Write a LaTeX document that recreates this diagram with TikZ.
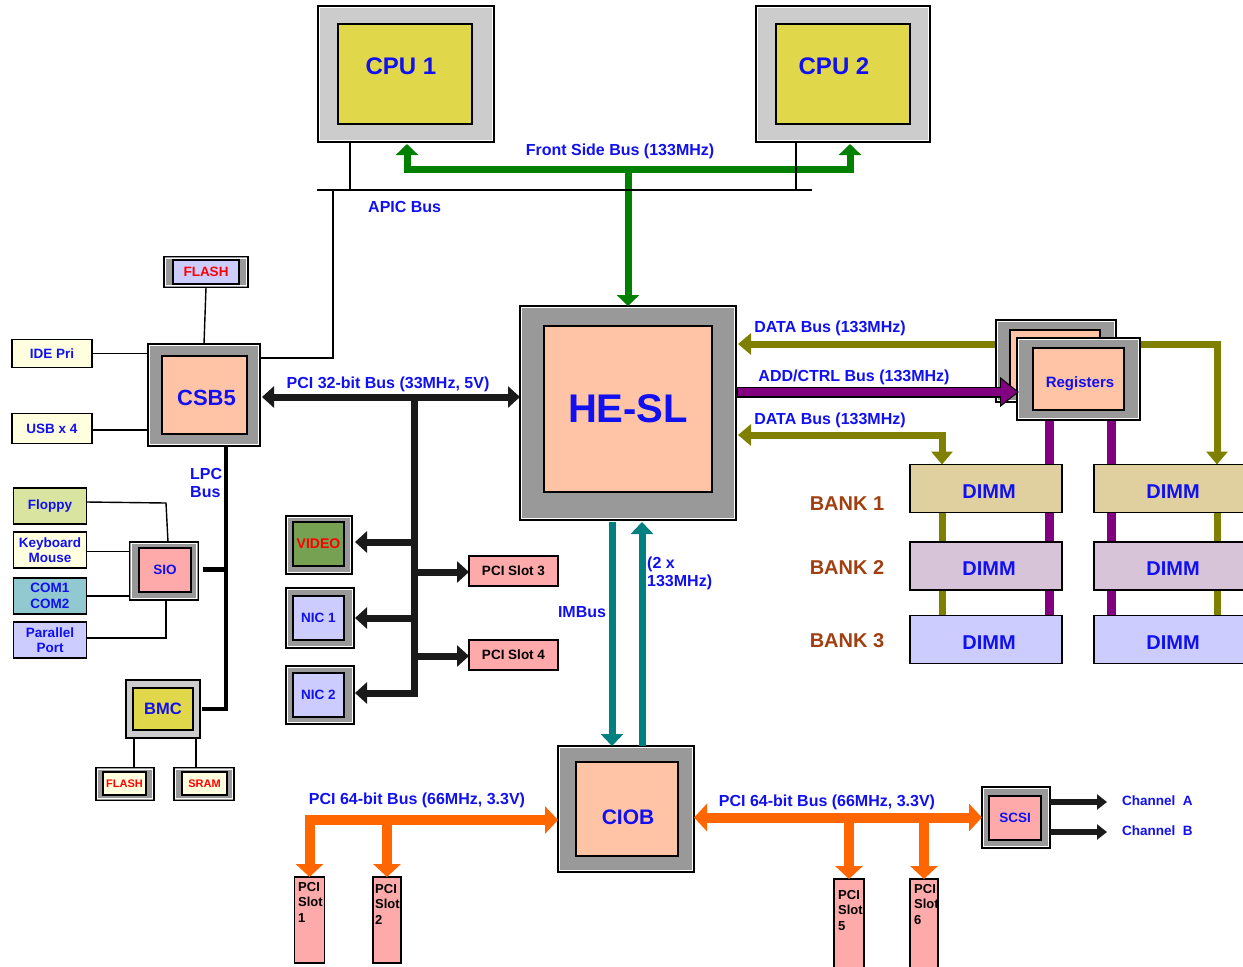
\documentclass[tikz,border=0pt]{standalone}
\usepackage{fontspec}
\setmainfont{Liberation Sans}
\usetikzlibrary{arrows.meta,calc}
\pgfdeclarelayer{bg}
\pgfsetlayers{bg,main}
\definecolor{tblue}{RGB}{16,16,240}
\definecolor{gry}{RGB}{153,153,153}
\definecolor{lgry}{RGB}{204,204,204}
\definecolor{peach}{RGB}{255,196,166}
\definecolor{cpuy}{RGB}{224,216,74}
\definecolor{lav}{RGB}{204,204,255}
\definecolor{lyel}{RGB}{255,255,224}
\definecolor{flop}{RGB}{216,228,160}
\definecolor{comc}{RGB}{146,200,208}
\definecolor{pinkc}{RGB}{255,170,170}
\definecolor{vidg}{RGB}{118,160,82}
\definecolor{bankA}{RGB}{224,208,160}
\definecolor{bankB}{RGB}{216,196,216}
\definecolor{bankt}{RGB}{160,64,16}
\definecolor{oliv}{RGB}{128,128,0}
\definecolor{purp}{RGB}{128,0,128}
\definecolor{tealc}{RGB}{0,128,128}
\definecolor{grn}{RGB}{0,128,0}
\definecolor{orng}{RGB}{255,102,0}
\definecolor{blk}{RGB}{26,26,26}
\newcommand{\fz}[2]{\fontsize{#1}{#2}\selectfont\bfseries}
\tikzset{
  Gt/.tip={Triangle[length=11pt,width=22pt]},
  Kt/.tip={Triangle[length=12pt,width=21pt]},
  Ot/.tip={Triangle[length=13pt,width=21pt]},
  Tt/.tip={Triangle[length=12pt,width=22pt]},
  Rt/.tip={Triangle[length=13pt,width=27pt]},
  Ct/.tip={Triangle[length=10pt,width=15pt]},
  bx/.style={draw=black, line width=1.5pt, inner sep=0pt, outer sep=0pt, align=center},
  og/.style={bx, fill=gry, path picture={\draw[white, line width=1pt]
      ([shift={(1.7pt,-1.7pt)}]path picture bounding box.north west) rectangle
      ([shift={(-1.7pt,1.7pt)}]path picture bounding box.south east);}},
  sz/.style 2 args={minimum width=#1pt, minimum height=#2pt},
  sm/.style={text=tblue, font=\fz{13.5}{15.5}},
  chip/.style={text=tblue, inner sep=0pt},
  lbl/.style={text=tblue, inner sep=0pt, font=\fz{16}{18}},
  slt/.style={text=black, inner sep=0pt, align=left, font=\fz{13}{15.5}},
  wire/.style={draw=black, line width=1.4pt},
  gb/.style={draw=grn, line width=7pt},
  kb/.style={draw=blk, line width=7pt},
  olb/.style={draw=oliv, line width=7pt},
  plb/.style={draw=purp, line width=9pt},
  tb/.style={draw=tealc, line width=7pt},
  ob/.style={draw=orng, line width=10pt},
  cb/.style={draw=blk, line width=6pt},
  lpcw/.style={draw=black, line width=4.5pt},
}
\begin{document}
\begin{tikzpicture}[x=1pt,y=-1pt,line join=miter]
\useasboundingbox (0,0) rectangle (1243,967);

% ---------------- CPUs
\node[og, fill=lgry, sz={176}{136}] (cpu1o) at (406,74) {};
\node[bx, fill=cpuy, sz={134}{100}] (cpu1) at (405,74) {};
\node[chip, font=\fz{24}{28}] (cpu1t) at (401,66) {CPU 1};
\node[og, fill=lgry, sz={174}{136}] (cpu2o) at (843,74) {};
\node[bx, fill=cpuy, sz={134}{100}] (cpu2) at (843,74) {};
\node[chip, font=\fz{24}{28}] (cpu2t) at (834,66) {CPU 2};

% ---------------- HE-SL
\node[og, sz={216}{214}] (heslo) at (628,413) {};
\node[bx, fill=peach, sz={168}{166}, text=tblue, font=\fz{40}{44}] (hesl) at (628,409) {HE-SL};

% ---------------- CSB5 group
\node[og, sz={112}{102}] (csbo) at (204,395) {};
\node[bx, fill=peach, sz={85}{78}] (csb) at (204.5,395) {};
\node[chip, font=\fz{22}{24}] (csbt) at (206.5,398) {CSB5};
\node[og, sz={84}{31}] (flo) at (206,272) {};
\node[bx, fill=lav, sz={66}{24}, text=red, font=\fz{13.5}{16}] (fl) at (206,272) {FLASH};
\node[bx, fill=lyel, sz={80}{28}, sm] (ide) at (52,353.5) {IDE Pri};
\node[bx, fill=lyel, sz={80}{30}, sm] (usb) at (52,428.5) {USB x 4};

% ---------------- SIO group
\node[og, sz={69}{58}] (sioo) at (164,571) {};
\node[bx, fill=pinkc, sz={52}{44}, sm] (sio) at (165,570) {SIO};
\node[bx, fill=flop, sz={73}{36}, sm] (flp) at (50,506) {Floppy};
\node[bx, fill=lyel, sz={73}{36}, sm] (kbd) at (50,550) {Keyboard\\Mouse};
\node[bx, fill=comc, sz={73}{36}, sm] (com) at (50,596) {COM1\\COM2};
\node[bx, fill=lav, sz={73}{36}, sm] (par) at (50,640) {Parallel\\Port};

% ---------------- BMC group
\node[bx, fill=lgry, sz={74}{58}] (bmco) at (163,709) {};
\node[bx, fill=cpuy, sz={60}{42}, text=tblue, font=\fz{16.5}{18}] (bmc) at (163,709) {BMC};
\node[og, sz={58}{33}] (fl2o) at (125,784) {};
\node[bx, fill=lyel, sz={43}{23}, text=red, font=\fz{11}{13}] (fl2) at (124.5,783.5) {FLASH};
\node[og, sz={60}{33}] (sramo) at (204,784) {};
\node[bx, fill=lyel, sz={45}{23}, text=red, font=\fz{11}{13}] (sram) at (204.5,783.5) {SRAM};

% ---------------- PCI devices
\node[og, sz={66}{58}] (vido) at (319,545) {};
\node[bx, fill=vidg, sz={51}{44}, text=red, font=\fz{14}{16}] (vid) at (318.5,544) {VIDEO};
\node[og, sz={68}{60}] (nic1o) at (320,618) {};
\node[bx, fill=lav, sz={51}{44}, sm] (nic1) at (318.5,618) {NIC 1};
\node[og, sz={68}{58}] (nic2o) at (320,695) {};
\node[bx, fill=lav, sz={51}{44}, sm] (nic2) at (318.5,695) {NIC 2};
\node[bx, fill=pinkc, sz={89}{30}, text=black, font=\fz{13.5}{16}] (sl3) at (513.5,571) {PCI Slot 3};
\node[bx, fill=pinkc, sz={89}{30}, text=black, font=\fz{13.5}{16}] (sl4) at (513.5,655) {PCI Slot 4};

% ---------------- Registers
\node[og, sz={120}{82}] (rgbo) at (1056,361) {};
\node[bx, fill=peach, sz={90}{62}] (rgb) at (1055,361) {};
\node[og, sz={123}{82}] (rgo) at (1078.5,379) {};
\node[bx, fill=peach, sz={91}{62}] (rg) at (1078.5,379) {};
\node[chip, font=\fz{15}{17}] (rgt) at (1080,384) {Registers};

% ---------------- DIMMs
\foreach \c/\x in {1/986,2/1170}{
  \foreach \r/\y/\col in {1/488.5/bankA,2/566/bankB,3/639.5/lav}{
    \node[bx, fill=\col, sz={152}{48}] (d\c\r) at (\x,\y) {};
    \node[chip, font=\fz{20}{22}] (t\c\r) at ([xshift=3pt,yshift=-3pt]d\c\r.center) {DIMM};
  }
}
\node[text=bankt, inner sep=0pt, font=\fz{20}{22}] (bk1) at (847,504) {BANK 1};
\node[text=bankt, inner sep=0pt, font=\fz{20}{22}] (bk2) at (847,568) {BANK 2};
\node[text=bankt, inner sep=0pt, font=\fz{20}{22}] (bk3) at (847,641) {BANK 3};

% ---------------- CIOB
\node[og, sz={136}{126}] (cioo) at (626,809) {};
\node[bx, fill=peach, sz={102}{94}] (cio) at (627,809) {};
\node[chip, font=\fz{21}{24}] (ciot) at (628,817) {CIOB};

% ---------------- SCSI
\node[og, sz={68}{61}] (scso) at (1016,817.5) {};
\node[bx, fill=pinkc, sz={52}{44}, sm] (scs) at (1015,818) {SCSI};

% ---------------- bottom PCI slots
\node[bx, fill=pinkc, sz={30}{86}] (s1) at (309.5,920) {};
\node[bx, fill=pinkc, sz={28}{86}] (s2) at (387,920) {};
\node[bx, fill=pinkc, sz={30}{96}] (s5) at (849,927) {};
\node[bx, fill=pinkc, sz={28}{96}] (s6) at (924,927) {};
\node[slt, anchor=north west] (s1t) at ([xshift=3.5pt,yshift=-5pt]s1.north west) {PCI\\Slot\\1};
\node[slt, anchor=north west] (s2t) at ([xshift=2pt,yshift=-7pt]s2.north west) {PCI\\Slot\\2};
\node[slt, anchor=north west] (s5t) at ([xshift=4pt,yshift=-11pt]s5.north west) {PCI\\Slot\\5};
\node[slt, anchor=north west] (s6t) at ([xshift=4pt,yshift=-5pt]s6.north west) {PCI\\Slot\\6};

% ================= background connectors
\begin{pgfonlayer}{bg}
  \draw[olb, {Ot}-{Ot}] ([xshift=2pt,yshift=69pt]heslo.east) -| ([xshift=47pt]d21.north);
  \draw[olb] ([xshift=47pt]d21.south) -- ([xshift=47pt]d23.north);
  \draw[olb] ([xshift=-44pt]d11.south) -- ([xshift=-44pt]d13.north);
  \draw[plb] ([xshift=-29.5pt]rgo.south) -- ([xshift=63pt]d13.north);
  \draw[plb] ([xshift=32.5pt]rgo.south) -- ([xshift=-59pt]d23.north);
\end{pgfonlayer}

% ================= Front side bus
\coordinate (fsbj) at (628,169);
\draw[gb, -{Gt}] (fsbj) -- (heslo.north);
\draw[gb, {Gt}-{Gt}] ([xshift=1pt,yshift=-2pt]cpu1o.south) |- (fsbj) -| ([xshift=7pt,yshift=-2pt]cpu2o.south);
\node[lbl] (fsbt) at (620,151) {Front Side Bus (133MHz)};

% ================= APIC bus
\coordinate (apl) at (317,190);
\coordinate (apr) at (812,190);
\coordinate (apd) at (333,190);
\draw[wire] (apl) -- (apr);
\draw[wire] ([xshift=-56pt]cpu1o.south) -- ++(0,48);
\draw[wire] ([xshift=-47pt]cpu2o.south) -- ++(0,48);
\draw[wire] (apd) |- ([yshift=37pt]csbo.east);
\node[lbl, anchor=west] (apt) at (368,207) {APIC Bus};

% ================= CSB5 links
\draw[wire] (flo.south) -- (csbo.north);
\draw[wire] (ide.east) -- (ide.east -| csbo.west);
\draw[wire] ([yshift=-1.5pt]usb.east) -- (csbo.west |- 0,430);

% ================= PCI 32-bit bus
\coordinate (pcil) at ([xshift=2pt,yshift=-2pt]csbo.east);
\coordinate (pcij) at (414,397);
\coordinate (pcie) at (414,697);
\draw[kb, {Kt}-{Kt}] (pcil) -- (pcil -| heslo.west);
\node[lbl] (pcit) at (388,384) {PCI 32-bit Bus (33MHz, 5V)};
\draw[kb] (pcij) -- (pcie);
\coordinate (b1) at (414,542);
\coordinate (b2) at (414,618);
\coordinate (b3) at (414,693);
\coordinate (b4) at (414,572);
\coordinate (b5) at (414,656);
\draw[kb, -{Kt}] (b1) -- ([xshift=3pt]b1 -| vido.east);
\draw[kb, -{Kt}] (b2) -- ([xshift=1pt]b2 -| nic1o.east);
\draw[kb, -{Kt}] (b3) -- ([xshift=1pt]b3 -| nic2o.east);
\draw[kb, -{Kt}] (b4) -- (b4 -| sl3.west);
\draw[kb, -{Kt}] (b5) -- (b5 -| sl4.west);

% ================= LPC bus
\coordinate (lpcx) at ([xshift=22pt]csbo.south);
\draw[lpcw] (lpcx) |- ([xshift=2pt]bmco.east);
\draw[lpcw] ([xshift=4pt,yshift=1.5pt]sioo.east) -- ([yshift=1.5pt]sioo.east -| lpcx);
\node[lbl, anchor=west, align=left] (lpct) at (190,483) {LPC\\Bus};

% ================= SIO links
\coordinate (flj) at (166,503);
\draw[wire] ([yshift=4pt]flp.east) -- (flj) -- ([xshift=4pt]sioo.north);
\draw[wire] ([yshift=-1.5pt]kbd.east) -- ([yshift=-1.5pt]kbd.east -| sioo.west);
\draw[wire] (com.east) -- (com.east -| sioo.west);
\draw[wire] ([yshift=2pt]par.east) -| ([xshift=2pt]sioo.south);

% ================= BMC links
\draw[wire] ([xshift=-29pt]bmco.south) -- ([xshift=9pt]fl2o.north);
\draw[wire] ([xshift=33pt]bmco.south) -- ([xshift=-8pt]sramo.north);

% ================= Memory buses
\draw[olb, {Ot}-{Ot}] ([xshift=2pt,yshift=-22pt]heslo.east) -| ([xshift=-44pt]d11.north);
\node[lbl] (dat1) at (830,328) {DATA Bus (133MHz)};
\node[lbl] (dat2) at (830,420) {DATA Bus (133MHz)};
\coordinate (acl) at ([yshift=21pt]heslo.east);
\coordinate (acr) at ([xshift=2pt]acl -| rgo.west);
\draw[line width=11pt, draw=black, -{Triangle[length=19pt,width=29pt]}] (acl) -- (acr);
\draw[line width=8pt, draw=purp, -{Triangle[length=16pt,width=24pt,fill=purp]}, shorten >=1.8pt] ([xshift=1.5pt]acl) -- (acr);
\node[lbl] (addt) at (854,377) {ADD/CTRL Bus (133MHz)};

% ================= IMBus
\draw[tb, -{Tt}] ([xshift=-16pt,yshift=-2pt]heslo.south) -- ([xshift=-14pt]cioo.north);
\draw[tb, -{Tt}] ([xshift=16pt]cioo.north) -- ([xshift=14pt,yshift=-2pt]heslo.south);
\node[lbl] (imbt) at (582,612) {IMBus};
\node[lbl, anchor=west, align=left] (imbf) at (647,573) {(2 x\\133MHz)};

% ================= PCI 64-bit buses
\coordinate (olj) at ([yshift=-11pt]cioo.west);
\draw[ob, {Rt}-{Rt}] (s1.north) |- (olj);
\draw[ob, -{Rt}] (s2.north |- olj) -- (s2.north);
\node[lbl] (p64l) at (417,800) {PCI 64-bit Bus (66MHz, 3.3V)};
\draw[ob, {Rt}-{Rt}] (cioo.east |- scso.west) -- (scso.west);
\draw[ob, -{Rt}] (s5.north |- scso.west) -- (s5.north);
\draw[ob, -{Rt}] (s6.north |- scso.west) -- (s6.north);
\node[lbl] (p64r) at (827,802) {PCI 64-bit Bus (66MHz, 3.3V)};

% ================= SCSI channels
\coordinate (chA) at (1107,802);
\coordinate (chB) at (1107,832);
\draw[cb, -{Ct}] ([yshift=15.5pt]scso.east) -- (chA);
\draw[cb, -{Ct}] ([yshift=-14.5pt]scso.east) -- (chB);
\node[sm, anchor=west, inner sep=0pt] (chAt) at (1122,801) {Channel\ \ A};
\node[sm, anchor=west, inner sep=0pt] (chBt) at (1122,831) {Channel\ \ B};
\end{tikzpicture}
\end{document}
